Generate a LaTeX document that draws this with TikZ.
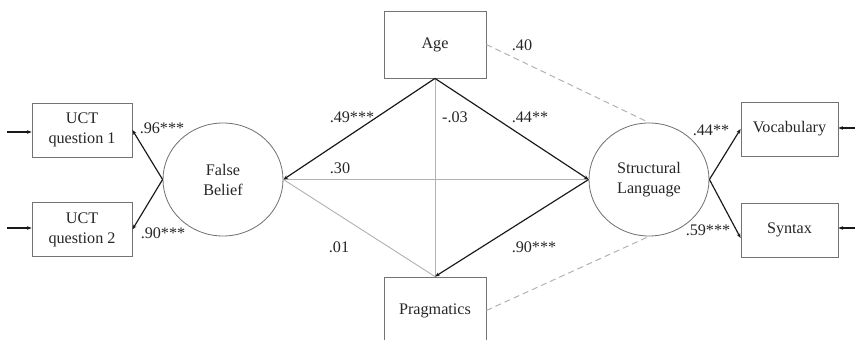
\documentclass[tikz,border=0pt]{standalone}
\usepackage{fontspec}
\setmainfont{Liberation Serif}
\usetikzlibrary{arrows.meta,shapes.geometric}

\begin{document}
\begin{tikzpicture}[x=0.6pt,y=-0.6pt,
    font=\fontsize{9.7}{12}\selectfont, text=black!85,
    >={Stealth[length=2.8pt,width=2.2pt]},
    obsbox/.style={draw=black!55, line width=0.5pt, minimum width=60pt, minimum height=32.4pt, align=center, inner sep=1pt},
    bigbox/.style={obsbox, minimum width=61.2pt, minimum height=40.2pt},
    latent/.style={draw=black!55, line width=0.5pt, ellipse, minimum width=72pt, minimum height=67.8pt, align=center, inner sep=0pt},
    sigpath/.style={draw=black!90, line width=0.7pt},
    nspath/.style={draw=black!30, line width=0.55pt},
    covpath/.style={draw=black!30, line width=0.6pt, dash pattern=on 3.6pt off 2.4pt},
    coef/.style={inner sep=0pt}]
        \useasboundingbox (0,0) rectangle (855,340);
        \node[bigbox] (age) at (435,44.5) {Age};
        \node[bigbox] (prag) at (435,310.5) {Pragmatics};
        \node[latent] (fb) at (223,179.5) {False\\Belief};
        \node[latent] (sl) at (649,179.5) {Structural\\Language};
        \node[obsbox] (uct1) at (82,130) {UCT\\question 1};
        \node[obsbox] (uct2) at (82,229.5) {UCT\\question 2};
        \node[obsbox, minimum width=58.2pt] (voc) at (789.5,129) {Vocabulary};
        \node[obsbox, minimum width=58.2pt] (syn) at (789.5,230) {Syntax};
        \coordinate (e1) at (7,132);
        \coordinate (e2) at (7,228);
        \coordinate (e3) at (855,128);
        \coordinate (e4) at (855,228);
        \draw[sigpath,->] (e1) -- (uct1.west |- e1);
        \draw[sigpath,->] (e2) -- (uct2.west |- e2);
        \draw[sigpath,->] (e3) -- (voc.east |- e3);
        \draw[sigpath,->] (e4) -- (syn.east |- e4);
        \draw[sigpath,->] (fb.west) -- (uct1.east);
        \draw[sigpath,->] (fb.west) -- (uct2.east);
        \draw[sigpath,->] (sl.east) -- (voc.west);
        \draw[sigpath,->] (sl.east) -- ([yshift=-4.8pt]syn.west);
        \draw[nspath] (age.south) -- (prag.north);
        \draw[nspath] (fb.east) -- (sl.west);
        \draw[nspath] (fb.east) -- (prag.north);
        \draw[sigpath,->] (age.south) -- (fb.east);
        \draw[sigpath,->] (age.south) -- (sl.west);
        \draw[sigpath,->] (sl.west) -- (prag.north);
        \draw[covpath] (age.east) -- (sl.north);
        \draw[covpath] (prag.east) -- (sl.south);
        \node[coef] (l1) at (162,128) {.96***};
        \node[coef] (l2) at (163,233) {.90***};
        \node[coef] (l3) at (352,117) {.49***};
        \node[coef] (l4) at (455,117) {-.03};
        \node[coef] (l5) at (530,117) {.44**};
        \node[coef] (l6) at (522,45) {.40};
        \node[coef] (l7) at (340,168) {.30};
        \node[coef] (l8) at (339,247) {.01};
        \node[coef] (l9) at (534,247) {.90***};
        \node[coef] (l10) at (711,130) {.44**};
        \node[coef] (l11) at (708,230) {.59***};
    \end{tikzpicture}
\end{document}
